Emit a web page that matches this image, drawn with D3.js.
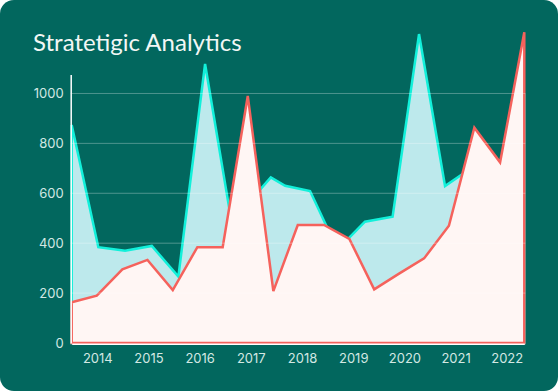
<!DOCTYPE html>
<html>
<head>
<meta charset="utf-8">
<script src="https://cdn.jsdelivr.net/npm/d3@7"></script>
<style>
  html, body { margin: 0; padding: 0; background: #ffffff; }
  svg { display: block; }
</style>
</head>
<body>
<script>
// ---- data ----
const title = "Stratetigic Analytics";
const redYears = [2013.50, 2013.99, 2014.49, 2014.98, 2015.475, 2015.955, 2016.45, 2016.94, 2017.44, 2017.917,
                  2018.43, 2018.925, 2019.41, 2019.896, 2020.385, 2020.87, 2021.367, 2021.87, 2022.343];
const redValues = [163, 190, 295, 333, 212, 384, 384, 990, 208, 473,
                   473, 417, 215, 278, 339, 470, 863, 724, 1245];
const tealYears = [2013.50, 2014.02, 2014.543, 2015.065, 2015.584, 2016.106, 2016.624, 2017.39, 2017.67,
                   2018.157, 2018.694, 2019.23, 2019.77, 2020.286, 2020.794, 2021.30, 2021.81, 2022.343];
const tealValues = [874, 384, 370, 389, 266, 1118, 483, 664, 630,
                    609, 374, 486, 506, 1238, 629, 700, 680, 1000];
const xTicks = [2014, 2015, 2016, 2017, 2018, 2019, 2020, 2021, 2022];
const yTicks = [0, 200, 400, 600, 800, 1000];

// ---- layout ----
const W = 558, H = 391;
const plot = { left: 71.7, right: 524.3, top: 74.5, bottom: 343 };

const svg = d3.select("body").append("svg").attr("width", W).attr("height", H);

svg.append("rect").attr("x", 0).attr("y", 0).attr("width", W).attr("height", H)
  .attr("rx", 14).attr("ry", 14).attr("fill", "#02675e");

svg.append("text").attr("x", 33).attr("y", 51)
  .attr("font-family", "Lato, 'Open Sans', sans-serif").attr("font-size", 24)
  .attr("fill", "#f2f7f5").text(title);

const x = d3.scaleLinear().domain([d3.min(redYears), d3.max(redYears)]).range([plot.left, plot.right]);
const y = d3.scaleLinear().domain([0, 1076]).range([plot.bottom, plot.top]);

const teal = tealYears.map((t, i) => ({ t, v: tealValues[i] }));
const red = redYears.map((t, i) => ({ t, v: redValues[i] }));

const area = d3.area().x(d => x(d.t)).y0(y(0)).y1(d => y(d.v));

svg.append("path").datum(teal).attr("d", area)
  .attr("fill", "#bde9ec").attr("stroke", "#12f0da").attr("stroke-width", 2.5);
svg.append("path").datum(red).attr("d", area)
  .attr("fill", "#fff6f4").attr("stroke", "#f5625c").attr("stroke-width", 2.5);

// gridlines
svg.append("g").selectAll("line").data(yTicks.filter(d => d > 0)).join("line")
  .attr("x1", plot.left - 1).attr("x2", plot.right + 1)
  .attr("y1", d => y(d)).attr("y2", d => y(d))
  .attr("stroke", "#ffffff").attr("stroke-opacity", 0.3).attr("stroke-width", 1);

// axes
const yAxis = d3.axisLeft(y).tickValues(yTicks).tickSize(0).tickPadding(7).tickFormat(d3.format("d"));
const gy = svg.append("g").attr("transform", `translate(${plot.left - 1},0)`).call(yAxis);
gy.select(".domain").attr("stroke", "#ffffff").attr("stroke-width", 1.5);
gy.selectAll("text").attr("font-family", "Inter, sans-serif").attr("font-size", 13).attr("fill", "#d3e8e3");

const xAxis = d3.axisBottom(x).tickValues(xTicks).tickSize(0).tickPadding(10).tickFormat(d3.format("d"));
const gx = svg.append("g").attr("transform", `translate(0,${plot.bottom + 0.8})`).call(xAxis);
gx.select(".domain").attr("stroke", "#ffffff").attr("stroke-width", 1.5);
gx.selectAll("text").attr("font-family", "Inter, sans-serif").attr("font-size", 13).attr("fill", "#d3e8e3");
</script>
</body>
</html>
